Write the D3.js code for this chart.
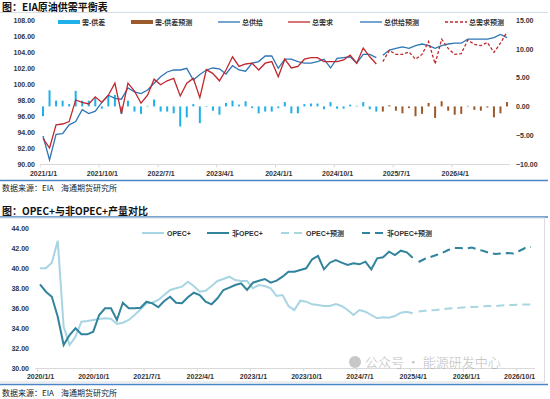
<!DOCTYPE html>
<html>
<head>
<meta charset="utf-8">
<script src="https://cdn.jsdelivr.net/npm/d3@7/dist/d3.min.js"></script>
<style>
  body { margin: 0; background: #fff; }
  svg { display: block; font-family: "Liberation Sans", "Noto Sans CJK SC", sans-serif; }
  .axis text { font-size: 7px; font-weight: bold; fill: #333; }
  .legend text { font-size: 7px; font-weight: bold; fill: #333; }
  .title { font-family: "Noto Sans CJK SC", sans-serif; font-size: 10px; font-weight: bold; fill: #111; }
  .source { font-family: "Noto Sans CJK SC", sans-serif; font-size: 8px; fill: #222; }
</style>
</head>
<body>
<svg id="chart" width="550" height="399"></svg>
<script>
////////////////////////    DATA    //////////////////////////////
// chart 1: EIA balance, monthly 2021/1 .. 2026/12, forecast from 2025/5
var balanceTicks = ['2021/1/1', '2021/10/1', '2022/7/1', '2023/4/1', '2024/1/1', '2024/10/1', '2025/7/1', '2026/4/1'];
var supplyHist = [93.5, 90.5, 93.7, 93.8, 94.9, 95.3, 96.8, 96.3, 96.6, 97.7,
  98.6, 98.2, 98.1, 99.5, 99.0, 98.8, 99.25, 100.1, 100.9, 101.5,
  101.75, 101.75, 101.96, 100.5, 101.2, 101.75, 102.0, 101.9, 101.25, 102.3,
  101.75, 101.6, 102.6, 102.8, 103.5, 103.5, 101.96, 103.1, 103.1, 102.8,
  102.6, 102.6, 102.8, 103.1, 102.0, 103.2, 103.3, 103.4, 102.6, 103.7,
  103.7, 103.3];
var demandHist = [93.2, 92.0, 94.9, 95.0, 95.3, 98.0, 97.7, 97.5, 98.4, 97.7,
  98.6, 100.1, 96.3, 100.1, 99.1, 97.6, 98.6, 100.6, 99.9, 100.4,
  100.7, 98.5, 100.1, 100.7, 98.3, 101.8, 101.3, 100.4, 101.75, 103.4,
  102.2, 102.5, 102.6, 101.75, 102.6, 102.8, 100.9, 103.1, 102.0, 102.2,
  103.1, 103.3, 103.3, 102.8, 102.8, 102.8, 103.0, 103.6, 102.6, 104.5,
  103.4, 102.5];
var gapHist = [-1.7, 2.8, 1.0, 1.0, 0.4, 2.7, 1.0, 1.0, 1.6, -0.4,
  1.9, 2.0, -1.3, 1.0, -0.9, -1.3, 0.1, 1.2, -0.9, -0.9,
  -1.2, -3.5, -1.9, 0.4, -2.9, -0.1, -0.75, -1.45, 0.6, 1.0,
  0.3, 0.9, -0.3, -1.2, -0.9, -0.9, -0.3, 0.75, -1.2, -1.2,
  0.4, 0.5, 0.5, -0.5, 0.75, -0.4, -0.4, 0.3, 0.1, 0.75,
  -0.5, -0.9];
var supplyFcst = [103.6, 104.25, 104.45, 104.65, 104.45, 104.8, 105.0, 104.8, 104.45, 104.8,
  105.0, 105.1, 105.1, 105.6, 105.6, 105.6, 105.6, 105.8, 106.2, 105.8];
var demandFcst = [102.8, 104.2, 103.7, 103.7, 104.0, 103.1, 103.7, 105.3, 102.5, 105.6,
  104.45, 103.7, 103.8, 105.5, 104.95, 104.8, 105.2, 103.95, 105.1, 106.5];
var gapFcst = [-0.9, 0.2, -0.75, -1.2, -0.3, -1.7, -1.3, 0.6, -2.0, 0.9,
  -0.75, -1.45, -1.3, 0.1, -0.6, -0.75, -0.2, -1.9, -1.2, 0.75];

// chart 2: OPEC+ vs non-OPEC+, monthly 2020/1 .. 2026/12, forecast from 2025/5
var outputTicks = ['2020/1/1', '2020/10/1', '2021/7/1', '2022/4/1', '2023/1/1', '2023/10/1', '2024/7/1', '2025/4/1', '2026/1/1', '2026/10/1'];
var opecHist = [39.97, 39.97, 40.53, 42.73, 34.13, 32.3, 33.13, 34.63, 34.7, 34.8,
  34.9, 34.97, 34.93, 34.4, 34.53, 34.8, 35.3, 35.87, 36.47, 36.53,
  36.8, 37.3, 37.8, 37.97, 38.13, 38.63, 38.2, 37.63, 37.73, 38.2,
  38.7, 38.9, 39.13, 38.8, 38.7, 38.7, 37.97, 38.3, 38.2, 37.97,
  37.2, 37.3, 36.2, 35.8, 36.73, 36.63, 36.37, 36.3, 36.2, 36.2,
  36.4, 36.2, 35.8, 35.3, 35.8, 35.63, 35.3, 34.97, 35.07, 35.03,
  35.2, 35.53, 35.63, 35.47];
var nonOpecHist = [38.37, 37.63, 37.13, 35.13, 32.3, 33.3, 33.97, 33.37, 33.37, 33.63,
  35.3, 35.97, 35.97, 34.8, 36.53, 35.97, 35.97, 36.03, 36.63, 36.47,
  36.07, 36.7, 37.13, 36.53, 36.47, 37.07, 37.53, 37.3, 36.63, 36.37,
  36.97, 37.8, 38.03, 38.3, 38.47, 37.8, 38.53, 38.73, 38.9, 38.53,
  38.73, 39.13, 39.63, 39.63, 39.8, 39.97, 40.87, 41.2, 39.87, 40.53,
  40.8, 40.53, 40.3, 40.47, 40.37, 40.63, 39.87, 40.97, 41.07, 41.63,
  41.3, 41.73, 41.57, 41.03];
var opecFcst = [35.65, 35.72, 35.76, 35.8, 35.88, 35.95, 35.98, 36.02, 36.08, 36.1,
  36.12, 36.18, 36.2, 36.2, 36.25, 36.3, 36.3, 36.33, 36.35, 36.35];
var nonOpecFcst = [40.6, 40.9, 41.1, 41.3, 41.5, 41.8, 42.0, 42.0, 41.95, 42.05,
  41.85, 41.7, 41.5, 41.4, 41.45, 41.5, 41.45, 41.7, 42.0, 42.1];

(function() {
  var svg = d3.select('#chart');

  // turn an array into {i, v} points starting at a given month index
  var pts = function(arr, offset) {
    return arr.map(function(v, k) { return {i: k + offset, v: v}; });
  };

  var blueLine = '#2E75B6', redLine = '#C0272D',
    gapBlue = '#1FB0EA', gapBrown = '#9C5A2C',
    opecLight = '#A8D5E2', opecDark = '#31849B';

  //////////////////////////    FRAME / TEXT    //////////////////////////////
  svg.append('text').attr('class', 'title').attr('x', 2).attr('y', 11).text('图：EIA原油供需平衡表');
  svg.append('line').attr('x1', 0).attr('x2', 548).attr('y1', 12.5).attr('y2', 12.5)
    .attr('stroke', '#d5dde6').attr('stroke-width', 1);
  svg.append('line').attr('x1', 0).attr('x2', 548).attr('y1', 180.5).attr('y2', 180.5)
    .attr('stroke', '#4A86C5').attr('stroke-width', 1.5);
  svg.append('text').attr('class', 'source').attr('x', 2).attr('y', 191).attr('xml:space', 'preserve')
    .text('数据来源：EIA    海通期货研究所');

  svg.append('text').attr('class', 'title').attr('x', 2).attr('y', 215).text('图：OPEC+与非OPEC+产量对比');
  svg.append('line').attr('x1', 0).attr('x2', 548).attr('y1', 217).attr('y2', 217)
    .attr('stroke', '#4A86C5').attr('stroke-width', 1.5);
  svg.append('rect').attr('x', -2).attr('y', 218).attr('width', 546.5).attr('height', 164)
    .attr('fill', 'none').attr('stroke', '#dcdcdc').attr('stroke-width', 1);
  svg.append('line').attr('x1', 0).attr('x2', 548).attr('y1', 384.5).attr('y2', 384.5)
    .attr('stroke', '#4A86C5').attr('stroke-width', 1.5);
  svg.append('text').attr('class', 'source').attr('x', 2).attr('y', 396).attr('xml:space', 'preserve')
    .text('数据来源：EIA    海通期货研究所');

  ////////////////////////    CHART 1: BALANCE    //////////////////////////
  var x1 = d3.scaleLinear().domain([0, 71]).range([43, 507]),
    yL = d3.scaleLinear().domain([90, 108]).range([164, 20]),
    yR = d3.scaleLinear().domain([-10, 15]).range([164, 20]);

  var g1 = svg.append('g').attr('class', 'balance');

  // axes
  g1.append('g').attr('class', 'axis').attr('transform', 'translate(35,0)')
    .call(d3.axisLeft(yL).tickValues(d3.range(90, 109, 2)).tickSize(0).tickPadding(0).tickFormat(d3.format('.2f')))
    .call(function(a) { a.select('.domain').remove(); });
  g1.append('g').attr('class', 'axis').attr('transform', 'translate(516,0)')
    .call(d3.axisRight(yR).tickValues(d3.range(-10, 16, 5)).tickSize(0).tickPadding(0).tickFormat(d3.format('.2f')))
    .call(function(a) { a.select('.domain').remove(); });
  g1.append('line').attr('x1', 40).attr('x2', 510).attr('y1', 164.5).attr('y2', 164.5)
    .attr('stroke', '#d9d9d9');
  g1.append('g').attr('transform', 'translate(0,164.5)')
    .call(d3.axisBottom(x1).tickValues(d3.range(-0.5, 71, 9)).tickSize(3).tickFormat(''))
    .call(function(a) { a.select('.domain').remove(); a.selectAll('line').attr('stroke', '#d9d9d9'); });
  g1.append('g').attr('class', 'axis').attr('transform', 'translate(0,168)')
    .call(d3.axisBottom(x1).tickValues(d3.range(0, 71, 9)).tickSize(0).tickPadding(3)
      .tickFormat(function(d, k) { return balanceTicks[k]; }))
    .call(function(a) { a.select('.domain').remove(); });

  // gap bars
  var bars = pts(gapHist, 0).map(function(d) { d.f = false; return d; })
    .concat(pts(gapFcst, gapHist.length).map(function(d) { d.f = true; return d; }));
  g1.selectAll('rect.gap').data(bars).enter().append('rect')
    .attr('class', 'gap')
    .attr('x', function(d) { return x1(d.i) - 1; })
    .attr('width', 2)
    .attr('y', function(d) { return Math.min(yR(d.v), yR(0)); })
    .attr('height', function(d) { return Math.abs(yR(d.v) - yR(0)); })
    .attr('fill', function(d) { return d.f ? gapBrown : gapBlue; });

  // lines
  var line1 = d3.line().x(function(d) { return x1(d.i); }).y(function(d) { return yL(d.v); });
  var series1 = [
    {data: pts(supplyHist, 0), color: blueLine, dash: null},
    {data: pts(demandHist, 0), color: redLine, dash: null},
    {data: pts(supplyFcst, supplyHist.length), color: blueLine, dash: null},
    {data: pts(demandFcst, demandHist.length), color: redLine, dash: '3,2'}
  ];
  series1.forEach(function(s) {
    g1.append('path').attr('d', line1(s.data))
      .attr('fill', 'none').attr('stroke', s.color).attr('stroke-width', 1.3)
      .attr('stroke-dasharray', s.dash);
  });

  // legend
  var leg1 = [
    {x: 58, label: '需-供差', type: 'rect', color: gapBlue},
    {x: 131, label: '需-供差预测', type: 'rect', color: gapBrown},
    {x: 218, label: '总供给', type: 'line', color: blueLine},
    {x: 288, label: '总需求', type: 'line', color: redLine},
    {x: 360, label: '总供给预测', type: 'line', color: blueLine},
    {x: 445, label: '总需求预测', type: 'line', color: redLine, dash: '3,2'}
  ];
  var l1 = g1.append('g').attr('class', 'legend');
  leg1.forEach(function(d) {
    if (d.type === 'rect') {
      l1.append('rect').attr('x', d.x).attr('y', 20).attr('width', 22).attr('height', 4).attr('fill', d.color);
    } else {
      l1.append('line').attr('x1', d.x).attr('x2', d.x + 22).attr('y1', 22).attr('y2', 22)
        .attr('stroke', d.color).attr('stroke-width', 1.3).attr('stroke-dasharray', d.dash || null);
    }
    l1.append('text').attr('x', d.x + 24).attr('y', 24.5).text(d.label);
  });

  ////////////////////////    CHART 2: OPEC+    //////////////////////////////
  var x2 = d3.scaleLinear().domain([0, 83]).range([40, 531]),
    y2 = d3.scaleLinear().domain([30, 44]).range([368, 228]);

  var g2 = svg.append('g').attr('class', 'output');

  g2.append('g').attr('class', 'axis').attr('transform', 'translate(29,0)')
    .call(d3.axisLeft(y2).tickValues(d3.range(30, 45, 2)).tickSize(0).tickPadding(0).tickFormat(d3.format('.2f')))
    .call(function(a) { a.select('.domain').remove(); });
  g2.append('line').attr('x1', 35).attr('x2', 535).attr('y1', 368.5).attr('y2', 368.5)
    .attr('stroke', '#d9d9d9');
  g2.append('g').attr('transform', 'translate(0,368.5)')
    .call(d3.axisBottom(x2).tickValues(d3.range(-0.5, 84, 9)).tickSize(3).tickFormat(''))
    .call(function(a) { a.select('.domain').remove(); a.selectAll('line').attr('stroke', '#d9d9d9'); });
  g2.append('g').attr('class', 'axis').attr('transform', 'translate(0,372)')
    .call(d3.axisBottom(x2).tickValues(d3.range(0, 83, 9)).tickSize(0).tickPadding(2)
      .tickFormat(function(d, k) { return outputTicks[k]; }))
    .call(function(a) { a.select('.domain').remove(); });

  var line2 = d3.line().x(function(d) { return x2(d.i); }).y(function(d) { return y2(d.v); });
  var series2 = [
    {data: pts(opecHist, 0), color: opecLight, dash: null},
    {data: pts(nonOpecHist, 0), color: opecDark, dash: null},
    {data: pts(opecFcst, opecHist.length), color: opecLight, dash: '8,5'},
    {data: pts(nonOpecFcst, nonOpecHist.length), color: opecDark, dash: '8,5'}
  ];
  series2.forEach(function(s) {
    g2.append('path').attr('d', line2(s.data))
      .attr('fill', 'none').attr('stroke', s.color).attr('stroke-width', 2)
      .attr('stroke-dasharray', s.dash);
  });

  var leg2 = [
    {x: 142, label: 'OPEC+', color: opecLight},
    {x: 207, label: '非OPEC+', color: opecDark},
    {x: 281, label: 'OPEC+预测', color: opecLight, dash: '8,5'},
    {x: 362, label: '非OPEC+预测', color: opecDark, dash: '8,5'}
  ];
  var l2 = g2.append('g').attr('class', 'legend');
  leg2.forEach(function(d) {
    l2.append('line').attr('x1', d.x).attr('x2', d.x + 22).attr('y1', 233).attr('y2', 233)
      .attr('stroke', d.color).attr('stroke-width', 2).attr('stroke-dasharray', d.dash || null);
    l2.append('text').attr('x', d.x + 25).attr('y', 235.5).text(d.label);
  });

  // watermark, lifted just above the x labels so the two do not collide
  var wm = svg.append('g').attr('opacity', 0.55);
  wm.append('circle').attr('cx', 355).attr('cy', 362).attr('r', 6).attr('fill', '#9a9a9a');
  wm.append('text').attr('x', 365).attr('y', 366.5).attr('font-family', '"Noto Sans CJK SC", sans-serif')
    .attr('font-size', 13).attr('font-weight', 300).attr('fill', '#8a8a8a').text('公众号 · 能源研发中心');
})();
</script>
</body>
</html>
